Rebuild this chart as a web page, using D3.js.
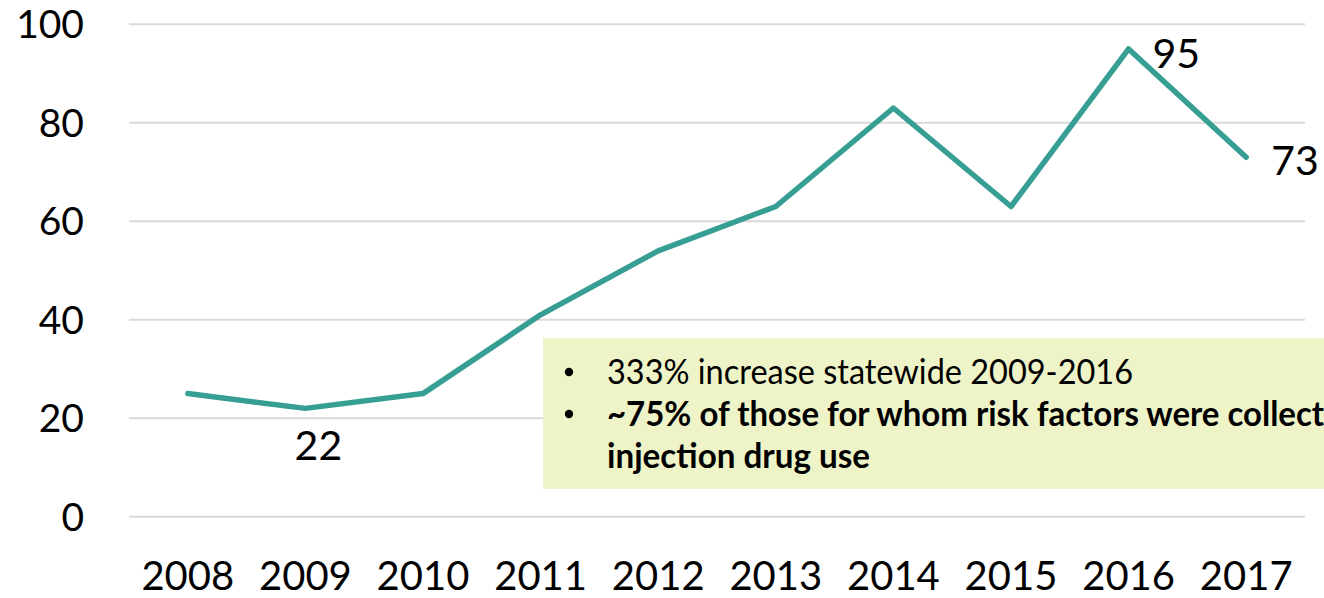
<!DOCTYPE html>
<html><head><meta charset="utf-8">
<script src="https://cdn.jsdelivr.net/npm/d3@7"></script>
<style>body{margin:0;background:#fff;} svg{display:block;}</style>
</head><body>
<svg id="chart" width="1324" height="598"></svg>
<script>
const years = ["2008","2009","2010","2011","2012","2013","2014","2015","2016","2017"];
const cases = [25, 22, 25, 41, 54, 63, 83, 63, 95, 73];
const yTicks = [0, 20, 40, 60, 80, 100];
const labeledYears = ["2009","2016","2017"];
const noteLines = [
  {text: "333% increase statewide 2009-2016", bold: false, bullet: true},
  {text: "~75% of those for whom risk factors were collected reported", bold: true, bullet: true},
  {text: "injection drug use", bold: true, bullet: false}
];

const W = 1324, H = 598;
const svg = d3.select("#chart");
const font = "Lato, 'Open Sans', sans-serif";

const x = d3.scalePoint().domain(years).range([129, 1305]).padding(0.5);
const y = d3.scaleLinear().domain([0, 100]).range([516.7, 24.3]);

// gridlines
svg.append("g").selectAll("line").data(yTicks).join("line")
  .attr("x1", 129).attr("x2", 1305)
  .attr("y1", d => y(d)).attr("y2", d => y(d))
  .attr("stroke", "#d9d9d9").attr("stroke-width", 2);

// y axis labels
svg.append("g").selectAll("text").data(yTicks).join("text")
  .attr("x", 84).attr("y", d => y(d)).attr("dy", "0.36em")
  .attr("text-anchor", "end")
  .attr("font-family", font).attr("font-size", 39).attr("fill", "#000")
  .text(d => d);

// x axis labels
svg.append("g").selectAll("text").data(years).join("text")
  .attr("x", d => x(d)).attr("y", 590)
  .attr("text-anchor", "middle")
  .attr("font-family", font).attr("font-size", 40).attr("fill", "#000")
  .text(d => d);

// line
const line = d3.line().x((d, i) => x(years[i])).y(d => y(d));
svg.append("path").datum(cases)
  .attr("d", line)
  .attr("fill", "none")
  .attr("stroke", "#379E93")
  .attr("stroke-width", 5.5)
  .attr("stroke-linejoin", "round")
  .attr("stroke-linecap", "round");

// data labels
const labelOffsets = {"2009": [13, 52, "middle"], "2016": [24, 19, "start"], "2017": [25, 18, "start"]};
svg.append("g").selectAll("text").data(labeledYears).join("text")
  .attr("x", d => x(d) + labelOffsets[d][0])
  .attr("y", d => y(cases[years.indexOf(d)]) + labelOffsets[d][1])
  .attr("text-anchor", d => labelOffsets[d][2])
  .attr("font-family", font).attr("font-size", 41).attr("fill", "#000")
  .text(d => cases[years.indexOf(d)]);

// note box
svg.append("defs").append("clipPath").attr("id", "clipAll")
  .append("rect").attr("x", 0).attr("y", 0).attr("width", W).attr("height", H);
const note = svg.append("g").attr("clip-path", "url(#clipAll)");
note.append("rect").attr("x", 543).attr("y", 338).attr("width", W - 543 + 10).attr("height", 151)
  .attr("fill", "#EEF4C8");
const lineY = [384, 426, 468];
// target widths (visible prefix length in chars, pixel width)
const fits = [[33, 526], [48, 717], [18, 263]];
noteLines.forEach((l, i) => {
  if (l.bullet) {
    note.append("circle").attr("cx", 569).attr("cy", lineY[i] - 12).attr("r", 4.2).attr("fill", "#000");
  }
  const t = note.append("text").attr("x", 607).attr("y", lineY[i])
    .attr("font-family", font).attr("font-size", 35)
    .attr("font-weight", l.bold ? 700 : 400).attr("fill", "#000")
    .text(l.text);
  const node = t.node();
  const full = node.getComputedTextLength();
  const pre = node.getSubStringLength(0, fits[i][0]);
  t.attr("textLength", fits[i][1] * full / pre).attr("lengthAdjust", "spacingAndGlyphs");
});
</script>
</body></html>
